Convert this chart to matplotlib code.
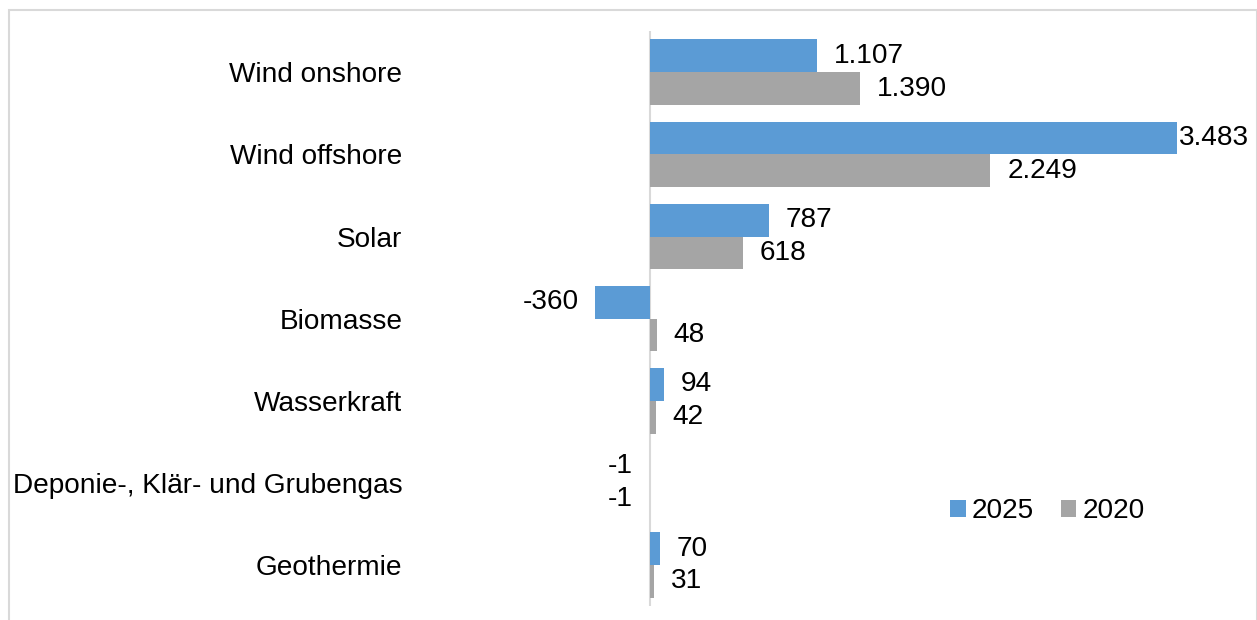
import matplotlib.pyplot as plt
import numpy as np
from matplotlib.patches import Rectangle

plt.rcParams["font.family"] = ["Liberation Sans", "DejaVu Sans"]

categories = [
    "Wind onshore",
    "Wind offshore",
    "Solar",
    "Biomasse",
    "Wasserkraft",
    "Deponie-, Klär- und Grubengas",
    "Geothermie",
]
values_2025 = [1107, 3483, 787, -360, 94, -1, 70]
values_2020 = [1390, 2249, 618, 48, 42, -1, 31]

BLUE = "#5b9bd5"
GRAY = "#a5a5a5"
LINE = "#d9d9d9"
FS = 20.2


def fmt(v):
    # German thousands separator
    return f"{v:,}".replace(",", ".")


fig = plt.figure(figsize=(12.57, 6.2), dpi=100)
ax = fig.add_axes([0.330, 0.0226, 0.664, 0.927])

y = np.arange(len(categories))
h = 0.4
bars_a = ax.barh(y - h / 2, values_2025, height=h, color=BLUE, label="2025")
bars_b = ax.barh(y + h / 2, values_2020, height=h, color=GRAY, label="2020")

ax.set_xlim(-1550, 3958)
ax.set_ylim(len(categories) - 0.5, -0.5)
ax.axvline(0, color=LINE, lw=1.5, zorder=0)

xmax = max(values_2025 + values_2020)
for bars, vals in ((bars_a, values_2025), (bars_b, values_2020)):
    for bar, v in zip(bars, vals):
        yc = bar.get_y() + bar.get_height() / 2
        if v >= 0:
            pad = 1 if v == xmax else 12
            ax.annotate(fmt(v), (v, yc), xytext=(pad, 0), textcoords="offset points",
                        ha="left", va="center", fontsize=FS)
        else:
            ax.annotate(fmt(v), (min(v, 0), yc), xytext=(-12, 0), textcoords="offset points",
                        ha="right", va="center", fontsize=FS)

ax.set_yticks(y)
ax.set_yticklabels(categories, fontsize=FS)
ax.tick_params(axis="y", length=0, pad=9)
ax.set_xticks([])
for s in ax.spines.values():
    s.set_visible(False)

ax.legend(loc="center", bbox_to_anchor=(0.758, 0.165), ncol=2, frameon=False,
          fontsize=FS, handlelength=0.55, handleheight=0.55, handletextpad=0.22,
          columnspacing=0.95)

# light frame around the chart area
fig.patches.append(Rectangle((8.5 / 1257, -0.05), 1248 / 1257, 1.05 - 9.5 / 620,
                             transform=fig.transFigure, fill=False,
                             edgecolor=LINE, lw=1.5))

fig.savefig("out.png", dpi=100, facecolor="white")
